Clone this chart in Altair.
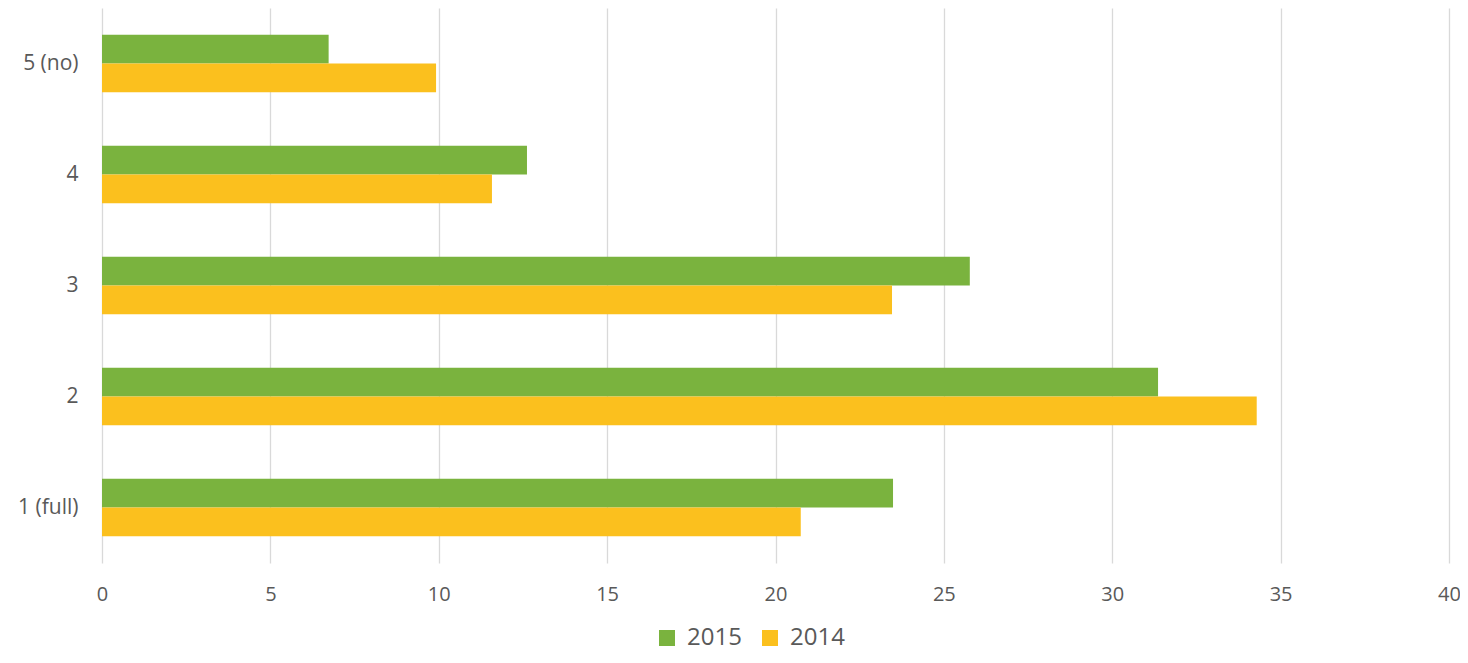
import altair as alt
import pandas as pd

categories = ["5 (no)", "4", "3", "2", "1 (full)"]
years = ["2015", "2014"]
values_2015 = [6.73, 12.62, 25.77, 31.36, 23.49]
values_2014 = [9.92, 11.58, 23.46, 34.29, 20.75]

rows = []
for c, v15, v14 in zip(categories, values_2015, values_2014):
    rows.append({"category": c, "year": "2015", "value": v15})
    rows.append({"category": c, "year": "2014", "value": v14})
df = pd.DataFrame(rows)

FONT = "Open Sans"
TEXT = "#595959"

chart = alt.Chart(df).mark_bar(strokeWidth=0).encode(
    y=alt.Y("category:N", sort=categories, title=None,
            scale=alt.Scale(paddingInner=0.48, paddingOuter=0.24),
            axis=alt.Axis(domain=False, ticks=False, labelPadding=24,
                          labelFontSize=21, labelColor=TEXT, labelFont=FONT, grid=False)),
    yOffset=alt.YOffset("year:N", sort=years, scale=alt.Scale(paddingInner=0, paddingOuter=0)),
    x=alt.X("value:Q", title=None,
            scale=alt.Scale(domain=[0, 40], nice=False),
            axis=alt.Axis(values=[0, 5, 10, 15, 20, 25, 30, 35, 40], domain=False, ticks=False,
                          labelFlush=False, labelOverlap=False,
                          labelPadding=21, labelFontSize=20, labelColor=TEXT, labelFont=FONT,
                          grid=True, gridColor="#D9D9D9", gridWidth=1.3)),
    color=alt.Color("year:N", sort=years,
                    scale=alt.Scale(domain=years, range=["#7AB33E", "#FBC01E"]),
                    legend=alt.Legend(title=None, orient="none", direction="horizontal",
                                      legendX=553, legendY=618,
                                      symbolType="square", symbolSize=256, symbolStrokeWidth=0,
                                      symbolOpacity=1,
                                      labelFontSize=24, labelColor=TEXT, labelFont=FONT,
                                      labelOffset=8, columnPadding=16)),
).properties(
    width=1347, height=555,
    background="white",
    autosize=alt.AutoSizeParams(type="none"),
    padding={"left": 94, "top": 0, "right": 11, "bottom": 92},
).configure_view(strokeWidth=0, stroke="transparent")

chart.save("out.html", embed_options={"renderer": "svg", "actions": False})
